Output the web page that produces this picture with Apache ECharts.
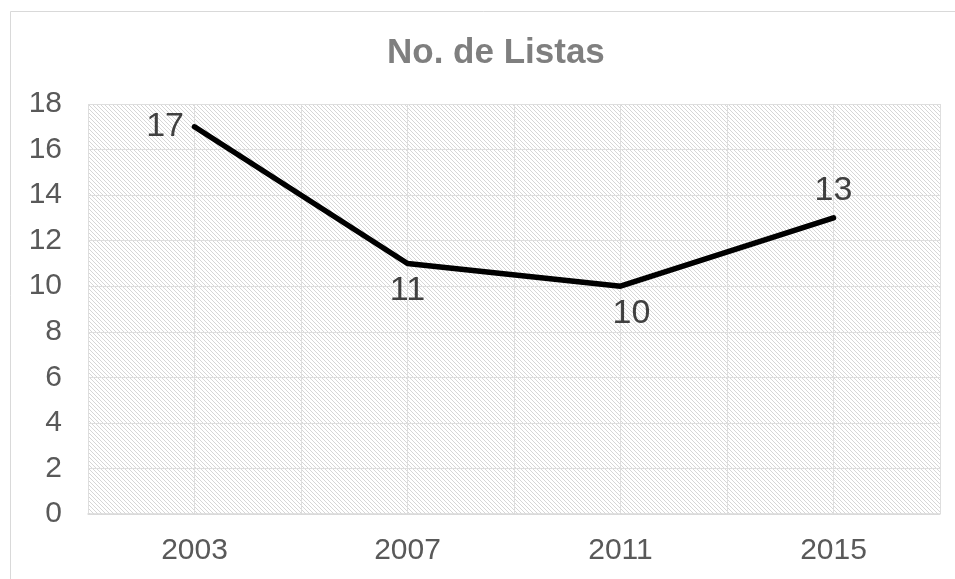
<!DOCTYPE html>
<html>
<head>
<meta charset="utf-8">
<script src="https://cdn.jsdelivr.net/npm/echarts@6/dist/echarts.min.js"></script>
<style>
html,body{margin:0;padding:0;background:#fff;}
#chart{width:955px;height:579px;}
</style>
</head>
<body>
<div id="chart"></div>
<script>
const categories = ['2003', '2007', '2011', '2015'];
const listas = [17, 11, 10, 13];
const chartTitle = 'No. de Listas';

// hatch pattern
const tile = document.createElement('canvas');
tile.width = 4; tile.height = 4;
const tctx = tile.getContext('2d');
tctx.fillStyle = '#ffffff';
tctx.fillRect(0, 0, 4, 4);
tctx.fillStyle = '#d6d6d6';
for (let i = 0; i < 4; i++) tctx.fillRect(i, i, 1, 1);

const labelPos = ['left', 'bottom', 'bottom', 'top'];
const labelOffset = [[0, 0], [0, 0], [11, 0], [0, 0]];

const chart = echarts.init(document.getElementById('chart'), null, {renderer: 'canvas'});
chart.setOption({
  animation: false,
  backgroundColor: '#ffffff',
  title: {
    text: chartTitle,
    left: 382,
    top: 31,
    textStyle: {fontFamily: 'Liberation Sans, Arial', fontWeight: 'bold', fontSize: 35, color: '#7f7f7f'}
  },
  graphic: [{
    type: 'rect', left: 8, top: 9, z: -10,
    shape: {width: 1200, height: 1200},
    style: {fill: 'none', stroke: '#d9d9d9', lineWidth: 1}
  }],
  grid: {
    left: 88, right: 15, top: 104, bottom: 65,
    show: true,
    borderWidth: 0,
    backgroundColor: {image: tile, repeat: 'repeat'}
  },
  xAxis: [{
    type: 'category',
    data: categories,
    boundaryGap: true,
    axisLine: {show: true, lineStyle: {color: '#d9d9d9', width: 1.5}},
    axisTick: {show: false},
    splitLine: {show: false},
    axisLabel: {margin: 22, fontFamily: 'Liberation Sans, Arial', fontSize: 30, color: '#595959'}
  }, {
    type: 'value',
    min: 0, max: 8, interval: 1,
    position: 'bottom',
    show: true,
    axisLine: {show: false},
    axisTick: {show: false},
    axisLabel: {show: false},
    splitLine: {show: true, lineStyle: {color: '#dedede', width: 1}}
  }],
  yAxis: {
    type: 'value',
    min: 0, max: 18, interval: 2,
    axisLine: {show: false},
    axisTick: {show: false},
    axisLabel: {margin: 26, fontFamily: 'Liberation Sans, Arial', fontSize: 30, color: '#595959'},
    splitLine: {show: true, lineStyle: {color: '#dedede', width: 1}}
  },
  series: [{
    type: 'line',
    xAxisIndex: 0,
    data: listas.map((v, i) => ({value: v, label: {position: labelPos[i], offset: labelOffset[i]}})),
    symbol: 'circle',
    symbolSize: 1,
    showSymbol: true,
    itemStyle: {color: '#000000'},
    lineStyle: {color: '#000000', width: 5.5, cap: 'round'},
    label: {
      show: true,
      distance: 10,
      fontFamily: 'Liberation Sans, Arial',
      fontSize: 34,
      color: '#404040'
    }
  }]
});
</script>
</body>
</html>
